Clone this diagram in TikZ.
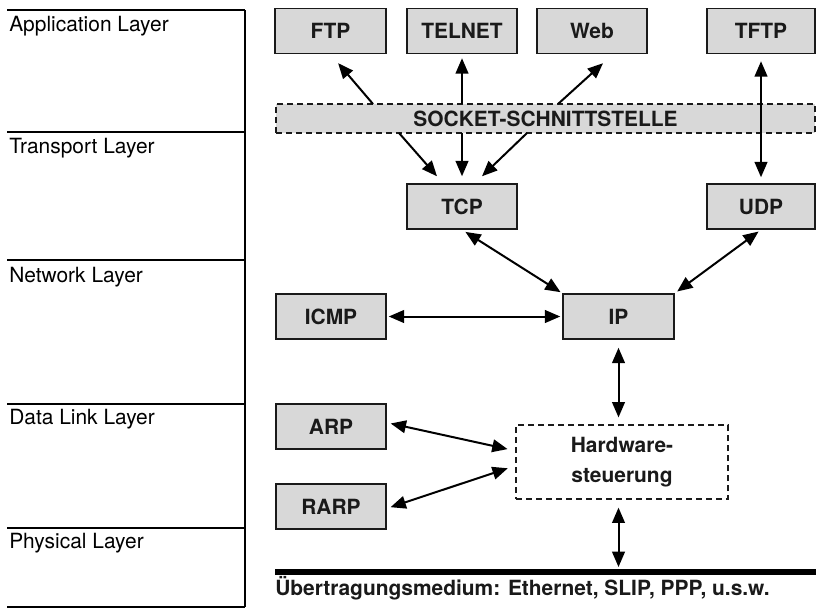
\documentclass[tikz,border=0pt]{standalone}
\usepackage{fontspec}
\setmainfont{TeX Gyre Heros}
\usetikzlibrary{arrows.meta,calc}
\definecolor{boxgray}{RGB}{216,216,216}
\definecolor{ink}{RGB}{26,26,26}

\begin{document}
\begin{tikzpicture}[x=0.75pt,y=-0.75pt,
  font=\fontsize{15.7}{18}\selectfont,
  layerline/.style={line width=1pt,draw=black},
  layerlabel/.style={anchor=base west,inner sep=0pt},
  box/.style={draw=ink,fill=boxgray,line width=1.1pt,inner sep=0pt,
    minimum width=82.5pt,minimum height=33.75pt,
    font=\fontsize{15.7}{18}\selectfont\bfseries,text=ink},
  dashbox/.style={draw=ink,line width=0.9pt,dash pattern=on 4.5pt off 3pt,
    inner sep=0pt,font=\fontsize{15.7}{22.5}\selectfont\bfseries,text=ink},
  arr/.style={-{Triangle[length=11.5pt,width=9.5pt]},line width=1.5pt,draw=black},
  darr/.style={{Triangle[length=11.5pt,width=9.5pt]}-{Triangle[length=11.5pt,width=9.5pt]},line width=1.5pt,draw=black}]

\useasboundingbox (0,0) rectangle (816,608);

% --- layer column on the left ---
\draw[layerline] (7,10) -- (245,10);
\draw[layerline] (7,132) -- (245,132);
\draw[layerline] (7,260) -- (245,260);
\draw[layerline] (7,404) -- (245,404);
\draw[layerline] (7,528) -- (245,528);
\draw[layerline] (7,607) -- (245,607);
\draw[line width=1.2pt] (245,10) -- (245,607);

\node[layerlabel] (lapp)  at (9,31)  {Application Layer};
\node[layerlabel] (ltra)  at (9,153) {Transport Layer};
\node[layerlabel] (lnet)  at (9,282) {Network Layer};
\node[layerlabel] (llink) at (9,424) {Data Link Layer};
\node[layerlabel] (lphy)  at (9,548) {Physical Layer};

% --- protocol boxes ---
\node[box,minimum width=83.25pt] (ftp)    at (330.5,31) {FTP};
\node[box] (telnet) at (462,31)  {TELNET};
\node[box] (web)    at (592,31)  {Web};
\node[box,minimum width=81pt] (tftp)   at (761,31)  {TFTP};

\node[dashbox,fill=boxgray,minimum width=404.25pt,minimum height=21.75pt] (socket)
  at (545.5,118.5) {SOCKET-SCHNITTSTELLE};

\node[box] (tcp)  at (462,206.5) {TCP};
\node[box,minimum width=81pt] (udp)  at (761,206.5) {UDP};

\node[box] (icmp) at (331,316.5) {ICMP};
\node[box,minimum width=83.25pt] (ip)   at (618.5,316.5) {IP};

\node[box] (arp)  at (331,426.5) {ARP};
\node[box] (rarp) at (331,506.5) {RARP};

\node[dashbox,align=center,minimum width=159pt,minimum height=55.5pt] (hw)
  at (622,462) {Hardware-\\steuerung};

% --- transmission medium ---
\coordinate (medL) at (275,572);
\coordinate (medR) at (816,572);
\draw[line width=4.5pt] (medL) -- (medR);
\node[anchor=base west,inner sep=0pt,font=\fontsize{15.7}{18}\selectfont\bfseries,text=ink]
  (medium) at (275,595) {Übertragungsmedium: Ethernet, SLIP, PPP, u.s.w.};

% --- socket connection points ---
\coordinate (sockFtp) at (373,104);
\coordinate (sockTel) at (462,104);
\coordinate (sockWeb) at (558,104);
\coordinate (sockA)   at (399,133);
\coordinate (sockB)   at (462,133);
\coordinate (sockC)   at (527,133);
\coordinate (webTip)  at ($(web.south)+(11,9)$);
\coordinate (tcpTipA) at ($(tcp.north)+(-25,-7)$);
\coordinate (tcpTipC) at ($(tcp.north)+(20,-7)$);

% --- connectors ---
\draw[arr,shorten >=8.8pt] (sockFtp) -- (ftp.south);
\draw[arr,shorten >=3pt] (sockTel) -- (telnet.south);
\draw[arr] (sockWeb) -- (webTip);

\draw[arr] (sockA) -- (tcpTipA);
\draw[arr,shorten >=5.25pt] (sockB) -- (tcp.north);
\draw[arr] (sockC) -- (tcpTipC);

\draw[darr,shorten <=5.25pt,shorten >=4.5pt] (tftp.south) -- (udp.north);

\draw[darr,shorten <=3pt,shorten >=1.5pt] (tcp.south) -- (ip.north west);
\draw[darr,shorten <=2.25pt,shorten >=2.25pt] (udp.south) -- (ip.north east);
\draw[darr,shorten <=1.5pt,shorten >=1.5pt] (icmp.east) -- (ip.west);

\draw[darr,shorten <=6pt,shorten >=5.25pt] (ip.south) -- (ip.south |- hw.north);

\draw[darr,shorten <=3pt,shorten >=6pt] (arp.4) -- (hw.174.6);
\draw[darr,shorten <=3pt,shorten >=6pt] (rarp.358) -- (hw.182);

\draw[darr,shorten <=6pt,shorten >=3.75pt] (ip.south |- hw.south) -- (ip.south |- medL);

\end{tikzpicture}
\end{document}
